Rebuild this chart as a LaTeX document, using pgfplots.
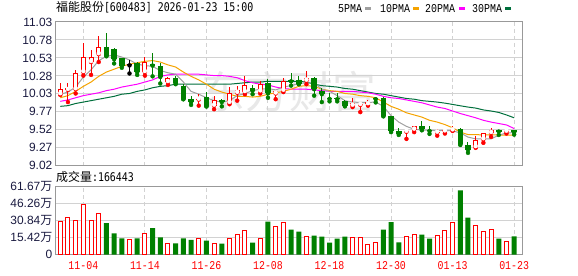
\documentclass[border=0pt]{standalone}
\usepackage{pgfplots}
\pgfplotsset{compat=1.18}
\usepackage{pgfplotstable}
\usepackage{fontspec}
\setmainfont{Liberation Sans}
\newfontfamily\cjk{Noto Sans CJK SC}
\newfontfamily\tmono[FakeStretch=0.83]{DejaVu Sans Mono}
\newfontfamily\lmono[FakeStretch=0.83]{Liberation Mono}
\definecolor{kred}{HTML}{FF0000}
\definecolor{kgreen}{HTML}{008000}
\definecolor{maA}{HTML}{A0A0A0}
\definecolor{maB}{HTML}{F5A300}
\definecolor{maC}{HTML}{FF00FF}
\definecolor{maD}{HTML}{006F3C}
\definecolor{gridc}{HTML}{D2D2D2}
\definecolor{framec}{HTML}{999999}
\definecolor{lab}{HTML}{1A1A40}

% rising days (close above open)
\pgfplotstableread{
i o h l c
0 10.02 10.17 10.01 10.09
1 10.08 10.17 9.91 10.11
2 10.09 10.36 10.03 10.32
3 10.33 10.73 10.28 10.54
4 10.47 10.64 10.29 10.54
5 10.58 10.84 10.47 10.68
11 10.33 10.54 10.28 10.47
14 10.19 10.26 10.15 10.25
18 9.945 10.02 9.86 9.955
20 9.86 10.00 9.81 9.94
22 9.90 10.12 9.88 10.03
23 10.04 10.13 9.93 10.08
24 10.05 10.27 10.02 10.15
26 10.06 10.20 10.03 10.16
28 10.03 10.08 9.95 10.06
29 10.07 10.25 10.05 10.21
32 10.21 10.35 10.16 10.25
38 9.86 9.97 9.84 9.89
39 9.87 9.89 9.77 9.885
40 9.88 9.94 9.86 9.91
45 9.495 9.505 9.395 9.505
46 9.525 9.58 9.49 9.58
49 9.483 9.53 9.44 9.492
50 9.50 9.54 9.47 9.506
51 9.515 9.576 9.506 9.534
54 9.28 9.43 9.27 9.377
55 9.39 9.483 9.34 9.483
56 9.478 9.553 9.423 9.525
58 9.497 9.54 9.47 9.506
}\kup

% falling days (close below open)
\pgfplotstableread{
i o h l c
6 10.68 10.87 10.55 10.56
7 10.65 10.66 10.45 10.51
8 10.52 10.53 10.39 10.42
10 10.45 10.47 10.29 10.33
12 10.44 10.59 10.27 10.42
13 10.42 10.46 10.17 10.26
15 10.25 10.27 10.16 10.17
16 10.14 10.16 9.95 9.95
17 9.95 9.99 9.87 9.91
19 9.98 10.05 9.85 9.85
21 9.94 9.95 9.85 9.91
25 10.11 10.15 10.02 10.07
27 10.18 10.23 9.97 10.03
30 10.22 10.32 10.14 10.20
31 10.22 10.28 10.16 10.16
33 10.25 10.26 10.00 10.09
34 10.06 10.10 9.91 10.02
35 9.965 10.03 9.92 9.955
36 9.97 10.03 9.92 9.95
37 9.93 9.94 9.85 9.86
41 9.96 9.965 9.905 9.95
42 9.96 9.98 9.71 9.72
43 9.71 9.71 9.49 9.51
44 9.50 9.55 9.45 9.47
47 9.57 9.64 9.515 9.53
48 9.525 9.57 9.465 9.505
52 9.53 9.553 9.31 9.32
53 9.316 9.35 9.20 9.242
57 9.515 9.515 9.45 9.497
59 9.515 9.515 9.455 9.488
}\kdown

% unchanged day
\pgfplotstableread{
i o h l c
9 10.43 10.50 10.31 10.43
}\kflat

\pgfplotstableread{
i m5 m10 m20 m30
0 10.02 9.97 9.92 9.85
1 10.05 10.00 9.94 9.86
2 10.12 10.06 9.97 9.89
3 10.26 10.13 10.00 9.91
4 10.36 10.19 10.02 9.93
5 10.49 10.27 10.04 9.95
6 10.55 10.33 10.07 9.97
7 10.57 10.37 10.09 9.99
8 10.54 10.41 10.12 10.02
9 10.50 10.44 10.14 10.03
10 10.44 10.46 10.16 10.06
11 10.42 10.48 10.19 10.08
12 10.41 10.49 10.22 10.11
13 10.35 10.47 10.27 10.13
14 10.32 10.43 10.29 10.14
15 10.30 10.40 10.30 10.16
16 10.19 10.33 10.30 10.16
17 10.06 10.27 10.30 10.16
18 10.02 10.22 10.30 10.16
19 9.97 10.16 10.29 10.16
20 9.93 10.09 10.28 10.16
21 9.91 10.05 10.28 10.16
22 9.93 10.02 10.27 10.16
23 10.00 9.99 10.25 10.17
24 10.03 9.99 10.21 10.18
25 10.07 9.98 10.18 10.19
26 10.09 9.99 10.16 10.19
27 10.10 10.02 10.15 10.20
28 10.08 10.04 10.12 10.20
29 10.12 10.06 10.10 10.20
30 10.14 10.09 10.09 10.20
31 10.17 10.13 10.09 10.20
32 10.18 10.14 10.09 10.19
33 10.18 10.13 10.08 10.16
34 10.09 10.09 10.07 10.14
35 10.06 10.07 10.06 10.13
36 10.00 10.06 10.06 10.12
37 9.93 10.03 10.06 10.10
38 9.91 10.02 10.06 10.09
39 9.905 10.00 10.05 10.07
40 9.905 9.99 10.04 10.05
41 9.91 9.97 10.02 10.03
42 9.85 9.91 9.99 10.02
43 9.72 9.85 9.97 10.00
44 9.63 9.81 9.96 9.98
45 9.57 9.76 9.94 9.96
46 9.53 9.73 9.92 9.95
47 9.52 9.70 9.90 9.93
48 9.515 9.655 9.87 9.92
49 9.51 9.63 9.84 9.91
50 9.515 9.595 9.82 9.895
51 9.506 9.55 9.785 9.877
52 9.48 9.49 9.75 9.858
53 9.42 9.455 9.72 9.84
54 9.395 9.455 9.69 9.826
55 9.395 9.45 9.655 9.80
56 9.395 9.45 9.63 9.785
57 9.446 9.45 9.61 9.765
58 9.478 9.446 9.59 9.73
59 9.483 9.446 9.54 9.69
}\madata

\pgfplotsset{
  kframe/.style={
    scale only axis, width=466.8bp,
    xmin=-0.62, xmax=60.06,
    axis line style={framec, line width=1bp},
    major tick length=0pt, tick style={draw=none},
    xtick={3,11,19,27,35,43,51,59},
    xmajorgrids, ymajorgrids,
    x grid style={gridc, line width=1bp, dash pattern=on 4bp off 3bp},
    y grid style={gridc, line width=1bp},
    yticklabel style={font=\fontsize{12}{12}\selectfont, text=lab, anchor=east, inner sep=0pt, xshift=-3bp},
  },
  % a vertical segment per candle, drawn as an error bar
  seg/.style 2 args={color=#1, only marks, mark=none, forget plot,
    error bars/y dir=plus, error bars/y explicit, error bars/error mark=none,
    error bars/error bar style={color=#1, draw=#1, line width=#2, solid, line cap=butt}},
}

\begin{document}
\begin{tikzpicture}
\useasboundingbox (0bp,0bp) rectangle (578bp,276bp);
\node[text=black!9, font=\cjk\fontsize{44}{44}\selectfont, inner sep=0pt] at (289bp,184bp) {东方财富};

% title and legend
\node[anchor=west, inner sep=0pt] at (56bp,268.5bp) {\cjk\fontsize{12}{12}\selectfont 福能股份{\tmono[600483] 2026-01-23 15:00}};
\node[anchor=west, inner sep=0pt] at (338bp,267.7bp) {\lmono\fontsize{12}{12}\selectfont 5PMA};
\fill[maA] (365bp,266.2bp) rectangle (371bp,269.2bp);
\node[anchor=west, inner sep=0pt] at (380bp,267.7bp) {\lmono\fontsize{12}{12}\selectfont 10PMA};
\fill[maB] (413bp,266.2bp) rectangle (419bp,269.2bp);
\node[anchor=west, inner sep=0pt] at (425bp,267.7bp) {\lmono\fontsize{12}{12}\selectfont 20PMA};
\fill[maC] (459bp,266.2bp) rectangle (465bp,269.2bp);
\node[anchor=west, inner sep=0pt] at (472bp,267.7bp) {\lmono\fontsize{12}{12}\selectfont 30PMA};
\fill[maD] (505bp,266.2bp) rectangle (511bp,269.2bp);

\node[anchor=west, inner sep=0pt] at (56bp,99.3bp) {\cjk\fontsize{12}{12}\selectfont 成交量{\tmono:166443}};

% price panel
\begin{axis}[kframe,
  at={(55.5bp,110.3bp)}, anchor=south west, height=143.7bp,
  ymin=9.02, ymax=11.03,
  ytick={9.02,9.27125,9.5225,9.77375,10.025,10.27625,10.5275,10.77875,11.03},
  yticklabels={9.02,9.27,9.52,9.77,10.03,10.28,10.53,10.78,11.03},
  xticklabels={},
]
\addplot[maD, line width=1bp] table[x=i, y=m30] {\madata};
\addplot[maC, line width=1bp] table[x=i, y=m20] {\madata};
\addplot[maB, line width=1bp] table[x=i, y=m10] {\madata};
\addplot[maA, line width=1bp] table[x=i, y=m5] {\madata};
% wicks
\addplot[seg={red}{1bp}] table[x=i, y=l, y error expr=\thisrow{h}-\thisrow{l}] {\kup};
\addplot[seg={kgreen}{1bp}] table[x=i, y=l, y error expr=\thisrow{h}-\thisrow{l}] {\kdown};
\addplot[seg={black}{1bp}] table[x=i, y=l, y error expr=\thisrow{h}-\thisrow{l}] {\kflat};
% bodies
\addplot[seg={red}{5bp}] table[x=i, y=o, y error expr={max(\thisrow{c}-\thisrow{o},0.014)}] {\kup};
\addplot[seg={white}{3bp}] table[x=i, y expr=\thisrow{o}+0.014, y error expr={max(\thisrow{c}-\thisrow{o}-0.028,0)}] {\kup};
\addplot[seg={kgreen}{5.5bp}] table[x=i, y=c, y error expr={max(\thisrow{o}-\thisrow{c},0.014)}] {\kdown};
\addplot[seg={black}{5bp}] table[x=i, y expr=\thisrow{o}-0.007, y error expr=0.014] {\kflat};
\end{axis}

% volume panel
\begin{axis}[kframe,
  at={(55.5bp,21.3bp)}, anchor=south west, height=68bp,
  ymin=0, ymax=61.67,
  ytick={0,15.4175,30.835,46.2525,61.67},
  yticklabels={0,15.42{\cjk 万},30.84{\cjk 万},46.26{\cjk 万},61.67{\cjk 万}},
  xticklabels={11-04,11-14,11-26,12-08,12-18,12-30,01-13,01-23},
  xticklabel style={font=\lmono\fontsize{12}{12}\selectfont, text=kred, anchor=north, inner sep=0pt, yshift=-7bp},
]
\addplot[ybar, bar width=4bp, bar shift=0pt, draw=kred, fill=white, line width=1bp] coordinates {
(0,30.1) (1,33.7) (2,31.0) (3,45.6) (4,31.0) (5,37.7) (9,13.7) (11,19.1) (14,10.0) (18,15.0) (20,10.6) (22,14.3) (23,17.9) (24,21.9) (26,14.3) (28,25.2) (29,28.9) (32,16.1) (38,15.2) (39,15.2) (40,9.7) (41,11.5) (45,16.1) (46,17.9) (49,17.3) (50,21.9) (51,29.2) (54,26.4) (55,21.0) (56,22.8) (58,11.8)
};
\addplot[ybar, bar width=5bp, bar shift=0pt, draw=none, fill=kgreen] coordinates {
(6,28.6) (7,19.4) (8,14.9) (10,14.9) (12,24.0) (13,15.8) (15,10.3) (16,14.9) (17,13.4) (19,12.8) (21,10.0) (25,10.9) (27,30.1) (30,22.8) (31,21.0) (33,17.3) (34,16.4) (35,10.9) (36,14.6) (37,16.4) (42,22.8) (43,29.5) (44,11.2) (47,18.2) (48,14.6) (52,58.3) (53,33.7) (57,14.6) (59,16.64)
};
\end{axis}
\end{tikzpicture}
\end{document}
